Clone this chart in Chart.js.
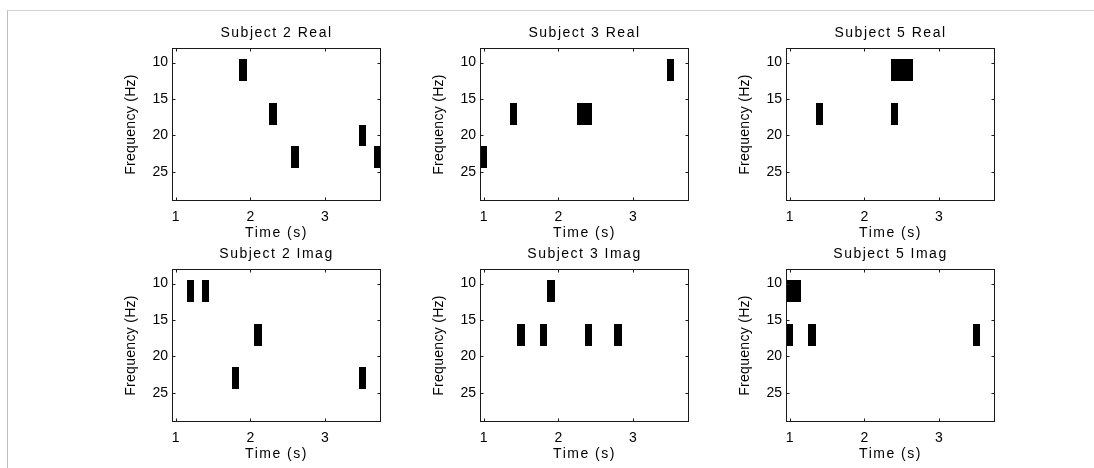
<!DOCTYPE html>
<html>
<head>
<meta charset="utf-8">
<script src="https://cdn.jsdelivr.net/npm/chart.js@4.4.0/dist/chart.umd.min.js"></script>
<style>
  html, body { margin: 0; padding: 0; background: #fff; }
  #frame {
    position: absolute; left: 7px; top: 10px; width: 1087px; height: 458px;
    border-top: 1px solid #d4d4d4; border-left: 1px solid #bdbdbd;
  }
  .panel { position: absolute; }
</style>
</head>
<body>
<div id="frame"></div>
<div id="panels"></div>
<script>
// bin size of each time-frequency cell
const timeStep = 0.1;  // s
const freqStep = 3;    // Hz

const xTicks = [1, 2, 3];
const yTicks = [10, 15, 20, 25];
const timeRange = [0.95, 3.75];
const freqRange = [8, 29];

const panelTitles = [
  "Subject 2 Real", "Subject 3 Real", "Subject 5 Real",
  "Subject 2 Imag", "Subject 3 Imag", "Subject 5 Imag"
];
const xLabel = "Time (s)";
const yLabel = "Frequency (Hz)";

// significant cells: bin centres (time, frequency)
const sub2RealTime = [1.9, 2.3, 2.6, 3.5, 3.7];
const sub2RealFreq = [11, 17, 23, 20, 23];
const sub3RealTime = [3.5, 1.4, 2.3, 2.4, 1.0];
const sub3RealFreq = [11, 17, 17, 17, 23];
const sub5RealTime = [2.4, 2.5, 2.6, 1.4, 2.4];
const sub5RealFreq = [11, 11, 11, 17, 17];
const sub2ImagTime = [1.2, 1.4, 2.1, 1.8, 3.5];
const sub2ImagFreq = [11, 11, 17, 23, 23];
const sub3ImagTime = [1.9, 1.5, 1.8, 2.4, 2.8];
const sub3ImagFreq = [11, 17, 17, 17, 17];
const sub5ImagTime = [1.0, 1.1, 1.0, 1.3, 3.5];
const sub5ImagFreq = [11, 11, 17, 17, 17];

const cellTimes = [sub2RealTime, sub3RealTime, sub5RealTime, sub2ImagTime, sub3ImagTime, sub5ImagTime];
const cellFreqs = [sub2RealFreq, sub3RealFreq, sub5RealFreq, sub2ImagFreq, sub3ImagFreq, sub5ImagFreq];

// layout of the 2x3 grid (plot area in page pixels)
const colLeft = [172, 480, 786];
const rowTop = [48, 269];
const plotW = 209, plotH = 153;
const yAxisW = 50, xAxisH = 43, padRight = 6;
const titleH = 27;

const FONT = "'Liberation Sans', Arial, sans-serif";
const FONT_SIZE = 14;
const INK = "#000";

// wider tracking on titles and the time label
function spacingFor(text) {
  if (text === xLabel || panelTitles.includes(text)) return "1.5px";
  if (text === yLabel) return "0.3px";
  return null;
}

const spacingPlugin = {
  id: "spacing",
  beforeInit(chart) {
    const ctx = chart.ctx;
    const fill = ctx.fillText;
    ctx.fillText = function (text, ...rest) {
      const sp = spacingFor(text);
      if (!sp) return fill.call(this, text, ...rest);
      const prev = this.letterSpacing;
      this.letterSpacing = sp;
      fill.call(this, text, ...rest);
      this.letterSpacing = prev;
    };
  },
};

// fill each cell as a rectangle one bin wide, through the chart scales
const cellPlugin = {
  id: "cells",
  afterDatasetsDraw(chart) {
    const { ctx, chartArea, scales: { x, y } } = chart;
    const pts = chart.data.datasets[0].data;
    ctx.save();
    ctx.beginPath();
    ctx.rect(chartArea.left, chartArea.top, chartArea.width, chartArea.height);
    ctx.clip();
    ctx.fillStyle = "#000";
    pts.forEach((p) => {
      const x0 = Math.round(x.getPixelForValue(p.x - timeStep / 2));
      const x1 = Math.round(x.getPixelForValue(p.x + timeStep / 2));
      const y0 = Math.round(y.getPixelForValue(p.y - freqStep / 2));
      const y1 = Math.round(y.getPixelForValue(p.y + freqStep / 2));
      ctx.fillRect(Math.min(x0, x1), Math.min(y0, y1), Math.abs(x1 - x0), Math.abs(y1 - y0));
    });
    ctx.restore();
  },
};

// axes box with inward tick marks on all four sides
const boxPlugin = {
  id: "box",
  afterDraw(chart) {
    const { ctx, chartArea: a, scales: { x, y } } = chart;
    const L = Math.round(a.left) + 0.5, R = Math.round(a.right) - 0.5;
    const T = Math.round(a.top) + 0.5, B = Math.round(a.bottom) - 0.5;
    const tl = 3;
    ctx.save();
    ctx.strokeStyle = "#1a1a1a";
    ctx.lineWidth = 1;
    ctx.strokeRect(L, T, R - L, B - T);
    ctx.beginPath();
    xTicks.forEach((v) => {
      const px = Math.round(x.getPixelForValue(v)) + 0.5;
      ctx.moveTo(px, B); ctx.lineTo(px, B - tl);
      ctx.moveTo(px, T); ctx.lineTo(px, T + tl);
    });
    yTicks.forEach((v) => {
      const py = Math.round(y.getPixelForValue(v)) + 0.5;
      ctx.moveTo(L, py); ctx.lineTo(L + tl, py);
      ctx.moveTo(R, py); ctx.lineTo(R - tl, py);
    });
    ctx.stroke();
    ctx.restore();
  },
};

function makePanel(i) {
  const col = i % 3, row = Math.floor(i / 3);
  const wrap = document.createElement("div");
  wrap.className = "panel";
  wrap.style.left = (colLeft[col] - yAxisW) + "px";
  wrap.style.top = (rowTop[row] - titleH) + "px";
  const canvas = document.createElement("canvas");
  canvas.width = yAxisW + plotW + padRight;
  canvas.height = titleH + plotH + xAxisH;
  wrap.appendChild(canvas);
  document.getElementById("panels").appendChild(wrap);

  const pts = cellTimes[i].map((t, k) => ({ x: t, y: cellFreqs[i][k] }));
  const font = { family: FONT, size: FONT_SIZE };

  return new Chart(canvas.getContext("2d"), {
    type: "scatter",
    data: { datasets: [{ data: pts, pointRadius: 0, pointHoverRadius: 0 }] },
    options: {
      responsive: false,
      animation: false,
      events: [],
      layout: { padding: { left: 0, right: padRight, top: 0, bottom: 0 } },
      scales: {
        x: {
          type: "linear",
          min: timeRange[0],
          max: timeRange[1],
          afterBuildTicks: (s) => { s.ticks = xTicks.map((v) => ({ value: v })); },
          afterFit: (s) => { s.height = xAxisH; },
          grid: { display: false, drawTicks: false },
          border: { display: false },
          ticks: { padding: 8, color: INK, font },
          title: {
            display: true, text: xLabel, color: INK, font,
            padding: { top: 0, bottom: 2 },
          },
        },
        y: {
          type: "linear",
          reverse: true,
          min: freqRange[0],
          max: freqRange[1],
          afterBuildTicks: (s) => { s.ticks = yTicks.map((v) => ({ value: v })); },
          afterFit: (s) => { s.width = yAxisW; },
          grid: { display: false, drawTicks: false },
          border: { display: false },
          ticks: { padding: 4, color: INK, font },
          title: {
            display: true, text: yLabel, color: INK, font,
            padding: { top: 0.6, bottom: 0 },
          },
        },
      },
      plugins: {
        legend: { display: false },
        tooltip: { enabled: false },
        title: {
          display: true, text: panelTitles[i], color: INK, fullSize: false,
          font: { family: FONT, size: FONT_SIZE, weight: "normal" },
          padding: { top: 3.5, bottom: 6.7 },
        },
      },
    },
    plugins: [spacingPlugin, cellPlugin, boxPlugin],
  });
}

for (let i = 0; i < 6; i++) makePanel(i);
</script>
</body>
</html>
